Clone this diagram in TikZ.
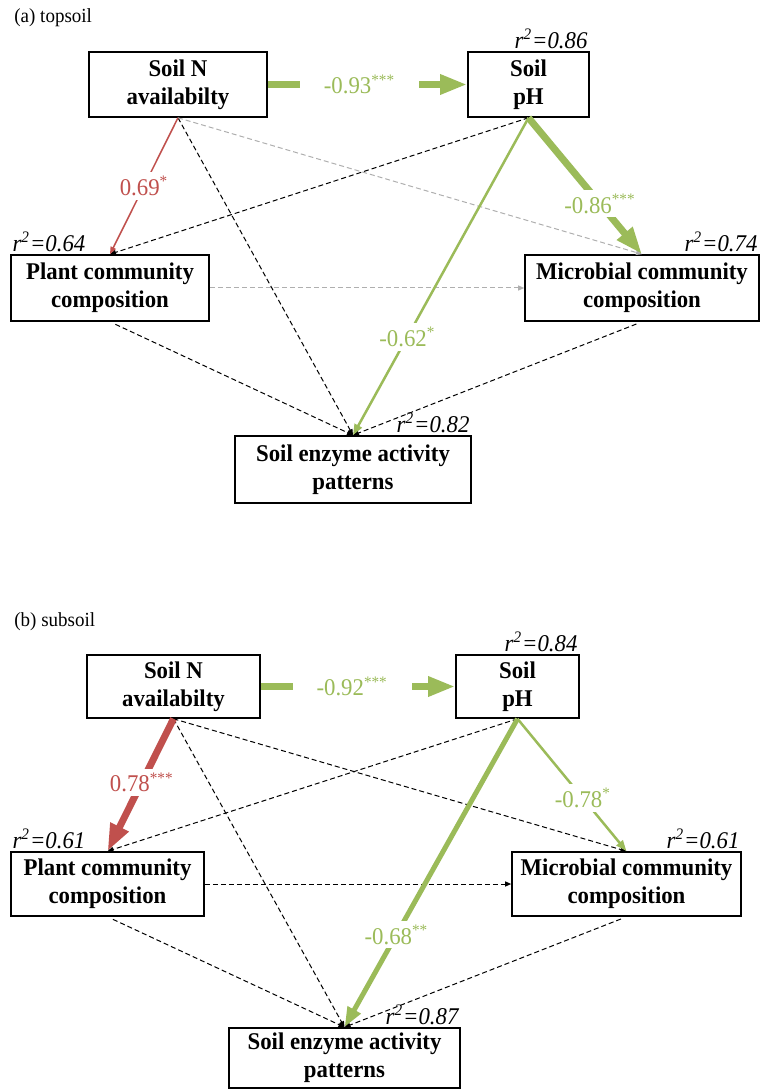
\documentclass[tikz,border=0pt]{standalone}
\usepackage{fontspec}
\setmainfont{Liberation Serif}[FakeStretch=0.95]
\usetikzlibrary{arrows.meta}
\definecolor{PathGreen}{RGB}{155, 187, 89}
\definecolor{PathRed}{RGB}{192, 80, 77}
\definecolor{LightGrey}{RGB}{175, 175, 175}

\begin{document}
\begin{tikzpicture}[x=0.5pt, y=-0.5pt,
    box/.style={draw, line width=0.8pt, align=center, inner sep=0pt,
        font=\fontsize{12}{14}\selectfont\bfseries},
    rsq/.style={inner sep=1pt, font=\fontsize{12}{14}\selectfont\itshape},
    coef/.style={fill=white, inner sep=2pt, font=\fontsize{12}{14}\selectfont},
    panel/.style={anchor=west, inner sep=0pt, font=\fontsize{10}{12}\selectfont},
    sig/.style={-{Triangle[length=1pt 3.6, width=1pt 2.4]}},
    ns/.style={line width=0.5pt, dash pattern=on 2.5pt off 1.5pt,
        -{Triangle[length=3pt, width=2.5pt]}}]
    \useasboundingbox (0,0) rectangle (762,1090);

    % (a) topsoil: cajas
    \node[panel] (atit) at (14,18) {(a) topsoil};
    \node[box, minimum width=89pt, minimum height=32.5pt] (aN) at (178,84.5) {Soil N\\availabilty};
    \node[box, minimum width=60.5pt, minimum height=32.5pt] (aP) at (528.5,84.5) {Soil\\pH};
    \node[box, minimum width=99pt, minimum height=33pt] (aPl) at (110,288) {Plant community\\composition};
    \node[box, minimum width=117pt, minimum height=33pt] (aM) at (642,288) {Microbial community\\composition};
    \node[box, minimum width=118pt, minimum height=33.5pt] (aE) at (353,469.5) {Soil enzyme activity\\patterns};

    % r2 de cada variable
    \node[rsq, anchor=south east] (aPr) at (aP.north east) {r\textsuperscript{2}=0.86};
    \node[rsq, anchor=south west] (aPlr) at (aPl.north west) {r\textsuperscript{2}=0.64};
    \node[rsq, anchor=south east] (aMr) at (aM.north east) {r\textsuperscript{2}=0.74};
    \node[rsq, anchor=south east] (aEr) at (aE.north east) {r\textsuperscript{2}=0.82};

    % Efectos no significativos
    \foreach \a/\b in {aN/aE, aP/aPl}
        \draw[ns] (\a.south) -- (\b.north);
    \foreach \a in {aPl, aM}
        \draw[ns, shorten <=3pt] (\a.south) -- (aE.north);
    \draw[ns, LightGrey] (aN.south) -- (aM.north);
    \draw[ns, LightGrey] (aPl.east) -- (aM.west);

    % Efectos significativos
    \draw[sig, PathGreen, line width=3.5pt] (aN.east) --
        node[coef, pos=0.46, inner xsep=12pt] {-0.93\textsuperscript{***}} (aP.west);
    \draw[sig, PathRed, line width=0.75pt] (aN.south) --
        node[coef, pos=0.5] {0.69\textsuperscript{*}} (aPl.north);
    \draw[sig, PathGreen, line width=3.5pt] (aP.south) --
        node[coef, pos=0.63] {-0.86\textsuperscript{***}} (aM.north);
    \draw[sig, PathGreen, line width=1.25pt] (aP.south) --
        node[coef, pos=0.69] {-0.62\textsuperscript{*}} (aE.north);

    % (b) subsoil: cajas
    \node[panel] (btit) at (14,622) {(b) subsoil};
    \node[box, minimum width=86.5pt, minimum height=31.5pt] (bN) at (173.5,686.5) {Soil N\\availabilty};
    \node[box, minimum width=61.5pt, minimum height=31.5pt] (bP) at (517.5,686.5) {Soil\\pH};
    \node[box, minimum width=96.5pt, minimum height=32pt] (bPl) at (107.5,884) {Plant community\\composition};
    \node[box, minimum width=114.5pt, minimum height=32pt] (bM) at (626.5,884) {Microbial community\\composition};
    \node[box, minimum width=115.5pt, minimum height=30pt] (bE) at (344.5,1058) {Soil enzyme activity\\patterns};

    % r2 de cada variable
    \node[rsq, anchor=south east] (bPr) at (bP.north east) {r\textsuperscript{2}=0.84};
    \node[rsq, anchor=south west] (bPlr) at (bPl.north west) {r\textsuperscript{2}=0.61};
    \node[rsq, anchor=south east] (bMr) at (bM.north east) {r\textsuperscript{2}=0.61};
    \node[rsq, anchor=south east] (bEr) at (bE.north east) {r\textsuperscript{2}=0.87};

    % Efectos no significativos
    \foreach \a/\b in {bN/bE, bN/bM, bP/bPl}
        \draw[ns] (\a.south) -- (\b.north);
    \foreach \a in {bPl, bM}
        \draw[ns, shorten <=3pt] (\a.south) -- (bE.north);
    \draw[ns] (bPl.east) -- (bM.west);

    % Efectos significativos
    \draw[sig, PathGreen, line width=3.5pt] (bN.east) --
        node[coef, pos=0.47, inner xsep=12pt] {-0.92\textsuperscript{***}} (bP.west);
    \draw[sig, PathRed, line width=3.5pt] (bN.south) --
        node[coef, pos=0.48] {0.78\textsuperscript{***}} (bPl.north);
    \draw[sig, PathGreen, line width=1.25pt] (bP.south) --
        node[coef, pos=0.6] {-0.78\textsuperscript{*}} (bM.north);
    \draw[sig, PathGreen, line width=2.5pt] (bP.south) --
        node[coef, pos=0.7] {-0.68\textsuperscript{**}} (bE.north);
\end{tikzpicture}
\end{document}
